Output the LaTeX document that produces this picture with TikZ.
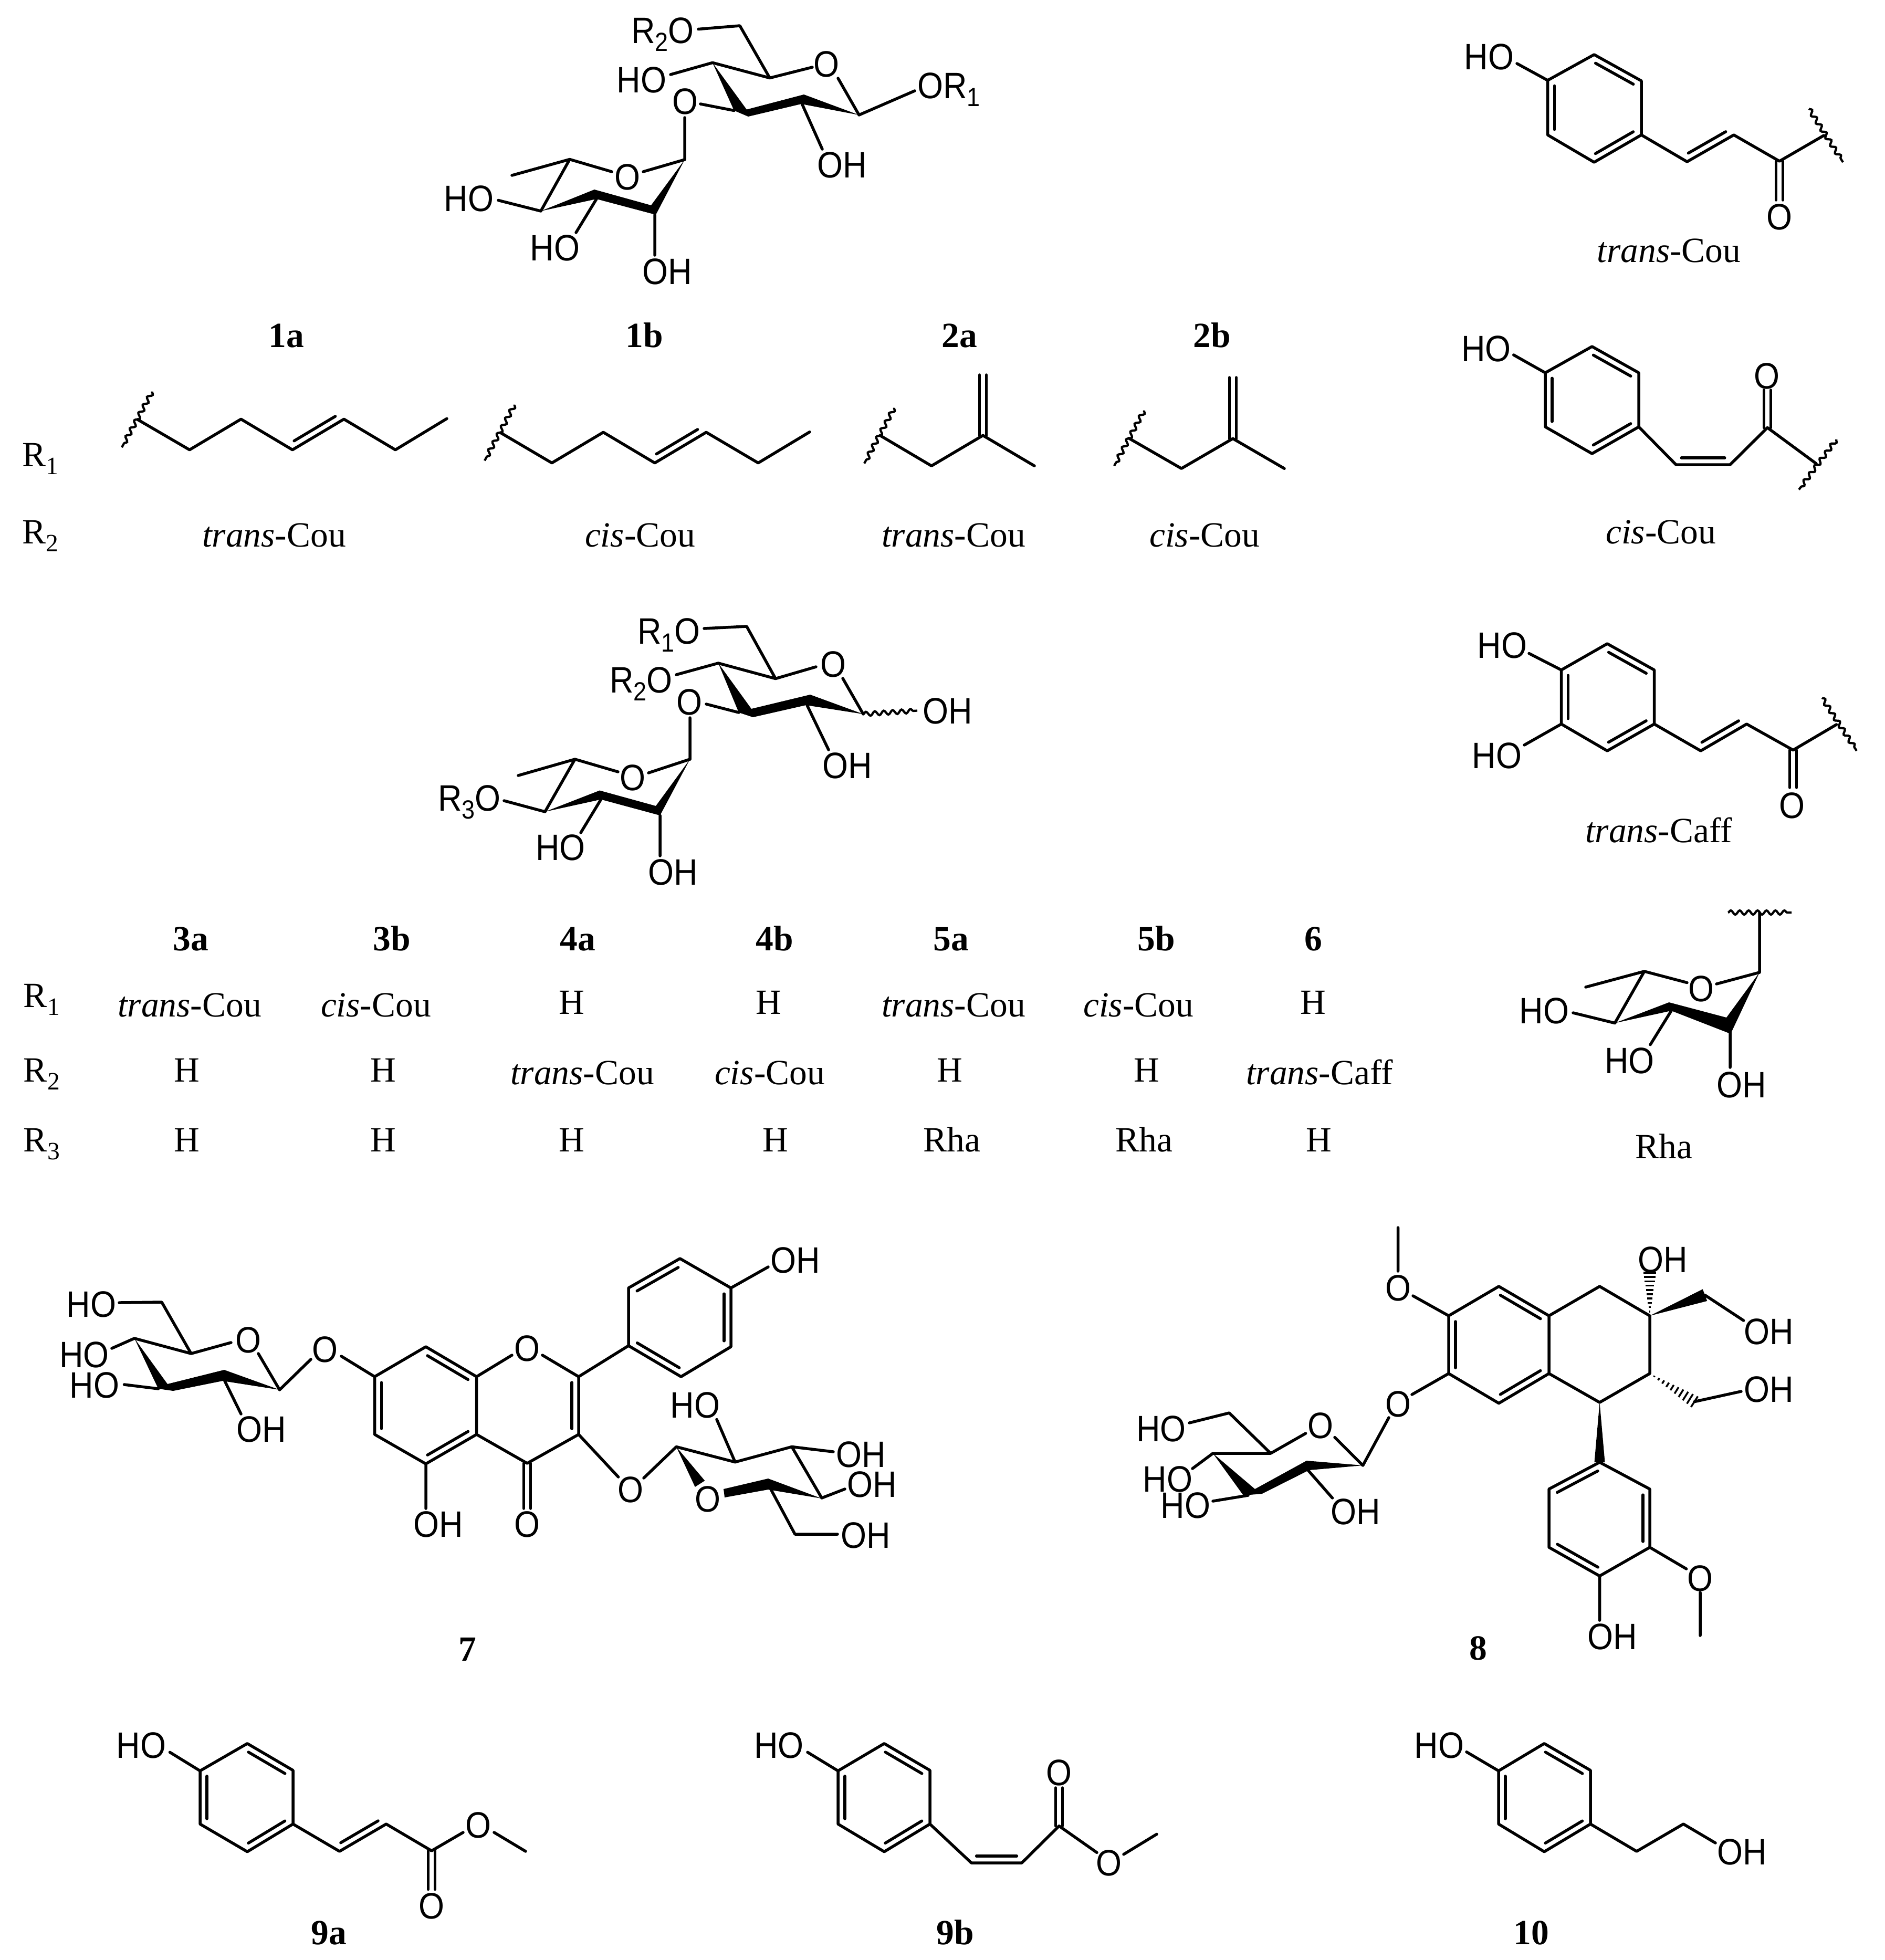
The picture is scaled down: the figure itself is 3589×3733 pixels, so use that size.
\documentclass[tikz,border=0pt]{standalone}
\usepackage{fontspec}
\setmainfont{Liberation Serif}
\newfontfamily\atomfont[FakeStretch=0.9]{Liberation Sans}
\usetikzlibrary{calc,decorations.pathmorphing}
\newcommand\pts[1]{\foreach \n/\x/\y in {#1} {\coordinate (\n) at (\x,\y);}}
\newcommand\subd[1]{\raisebox{-3pt}{\fontsize{10}{10}\selectfont #1}}
\newcommand\subs[1]{\raisebox{-3pt}{\fontsize{9.5}{10}\selectfont #1}}
% inner line of a double bond, on the left of a->b
\newcommand\dbl[2]{\draw[bond] ($(#1)!0.1!(#2)!2.6pt!90:(#2)$) -- ($(#2)!0.1!(#1)!2.6pt!-90:(#1)$);}
% symmetric double bond
\newcommand\dblc[2]{\draw[bond] ($(#1)!1.3pt!90:(#2)$) -- ($(#2)!1.3pt!-90:(#1)$) ($(#1)!1.3pt!-90:(#2)$) -- ($(#2)!1.3pt!90:(#1)$);}
\newcommand\wdg[3]{\fill (#1) -- ($(#2)!#3!90:(#1)$) -- ($(#2)!#3!-90:(#1)$) -- cycle;}
\newcommand\hashb[3]{\foreach \hf in {0.1,0.2,...,1.0}{\pgfmathsetmacro\hw{\hf*#3}\draw[line width=.7pt] ($(#1)!\hf!(#2)!\hw pt!90:(#2)$) -- ($(#1)!\hf!(#2)!\hw pt!-90:(#2)$);}}
\tikzset{
 bond/.style={line width=1.1pt,line cap=round,line join=round},
 wavy/.style={line width=.85pt,decorate,decoration={snake,amplitude=.8pt,segment length=3.4pt}},
 atomlab/.style={inner sep=0pt,font=\atomfont\fontsize{14}{14}\selectfont},
 atomrow/.style={inner sep=0pt,anchor=base west,font=\atomfont\fontsize{14}{14}\selectfont},
 captxt/.style={inner sep=0pt,anchor=base,font=\fontsize{13.5}{14}\selectfont},
 capbold/.style={inner sep=0pt,anchor=base,font=\bfseries\fontsize{13.5}{14}\selectfont},
 rlab/.style={inner sep=0pt,anchor=base west,font=\fontsize{13.5}{14}\selectfont},
}
\begin{document}
\begin{tikzpicture}[x=0.2pt,y=-0.2pt]
\useasboundingbox (0,0) rectangle (3589,3733);
\fill[white] (0,0) rectangle (3589,3733);

%% ---------- top disaccharide
\pts{Ac6/1409/49,Ac5/1466/148.5,Ac1/1636/219,Ac4/1357/119.4,Ac3t/1398/210.5,Ac2/1527.5/198,
AeR/1330/55.5,AeOa/1547/128,AeOb/1596/149,AeRb/1742/173,AeHO/1277/142,AeOc/1334/198,AeOd/1304/224,AeOH/1566/284,
Bc1/1304/304,BeOa/1225/327,BeOb/1165/327,Bc5/1085/303.5,Bme/975/334,Bc4/1030/402,BeHO/949/381.5,Bc3/1136/379,BeH3/1097/443,Bc2/1247/409,BeH2/1247/486}
\draw[bond] (AeR)--(Ac6)--(Ac5)--(AeOa) (Ac5)--(Ac4)--(AeHO) (AeOb)--(Ac1)--(AeRb) (AeOc)--(Ac3t) (AeOd)--(Bc1) (Ac2)--(AeOH);
\fill (1357,119.4)--(1422,208.6)--(1531,180)--(1636,219)--(1526,198)--(1425,222)--(1398,210.5)--cycle;
\draw[bond] (BeOa)--(Bc1) (BeOb)--(Bc5)--(Bme) (Bc5)--(Bc4)--(BeHO) (Bc3)--(BeH3) (Bc2)--(BeH2);
\fill (1030,402)--(1132,361)--(1240,391)--(1304,304)--(1249,409)--(1136,379)--cycle;
\node[atomrow] (Alr) at (1201,82) {R\subd{2}O};
\node[atomlab] (Alo) at (1574,122.5) {O};
\node[atomrow] (Alq) at (1746,187) {OR\subd{1}};
\node[atomlab] (Alh) at (1222,152) {HO};
\node[atomlab] (Alc) at (1305,193) {O};
\node[atomlab] (Alo2) at (1604,314.5) {OH};
\node[atomlab] (Blo) at (1195,337.5) {O};
\node[atomlab] (Blh) at (893,378) {HO};
\node[atomlab] (Bl3) at (1057,472) {HO};
\node[atomlab] (Bl2) at (1271,517) {OH};

%% ---------- row 1a-2b
\node[capbold] (c1a) at (545,661.7) {1a};
\node[capbold] (c1b) at (1227,661.7) {1b};
\node[capbold] (c2a) at (1827,661.7) {2a};
\node[capbold] (c2b) at (2308,661.7) {2b};
\node[rlab] (r1a) at (41,888) {R\subs{1}};
\node[rlab] (r2a) at (41,1035.7) {R\subs{2}};
\node[captxt] (t1a) at (522,1041.7) {\textit{trans}-Cou};
\node[captxt] (t1b) at (1219,1041.7) {\textit{cis}-Cou};
\node[captxt] (t2a) at (1816,1041.7) {\textit{trans}-Cou};
\node[captxt] (t2b) at (2294,1041.7) {\textit{cis}-Cou};
\pts{Ca1/262/799,Ca2/361/856.7,Ca3/459/798.3,Ca4/557/856.7,Ca5/655/798.3,Ca6/753/856.7,Ca7/851/797.3,Caw/290/745.7,Cax/232/852,
Cb1/953/824,Cb2/1051/881.7,Cb3/1149/823.3,Cb4/1247/881.7,Cb5/1345/823.3,Cb6/1444/881.7,Cb7/1542/822.7,Cbw/980/770.7,Cbx/923/877.3,
Cc1/1676/829.3,Cc2/1774/887.3,Cc3/1872/829.3,Cc4/1970/887.3,Cct/1872/714,Ccw/1703/776.7,Ccx/1646/882.7,
Cd1/2150/834.7,Cd2/2250/892.3,Cd3/2348/835.3,Cd4/2446/892.3,Cdt/2348/719,Cdw/2179/781.7,Cdx/2122/887.3}
\draw[bond] (Ca1)--(Ca2)--(Ca3)--(Ca4)--(Ca5)--(Ca6)--(Ca7); \dbl{Ca4}{Ca5}
\draw[wavy] (Caw)--(Cax);
\draw[bond] (Cb1)--(Cb2)--(Cb3)--(Cb4)--(Cb5)--(Cb6)--(Cb7); \dbl{Cb4}{Cb5}
\draw[wavy] (Cbw)--(Cbx);
\draw[bond] (Cc1)--(Cc2)--(Cc3)--(Cc4); \dblc{Cc3}{Cct}
\draw[wavy] (Ccw)--(Ccx);
\draw[bond] (Cd1)--(Cd2)--(Cd3)--(Cd4); \dblc{Cd3}{Cdt}
\draw[wavy] (Cdw)--(Cdx);

%% ---------- second disaccharide
\pts{Dc6/1422/1193,Dc5/1477/1292.5,Dc1/1644/1360,Dc4/1368/1263,Dc3t/1407/1357,Dc2/1537/1343,
DeR/1341/1197,DeOa/1554/1270,DeOb/1605/1292,DeW/1747/1353.5,DeR2/1288/1285,DeOc/1345/1341,DeOd/1314/1367,DeOH/1578/1428,
Ec1/1314/1446,EeOa/1235/1472,EeOb/1177/1470,Ec5/1095/1446,Eme/987/1477,Ec4/1038/1546,EeR/960/1525,Ec3/1144.5/1522.6,EeH3/1106/1586,Ec2/1257/1553,EeH2/1257/1630}
\draw[bond] (DeR)--(Dc6)--(Dc5)--(DeOa) (Dc5)--(Dc4)--(DeR2) (DeOb)--(Dc1) (DeOc)--(Dc3t) (DeOd)--(Ec1) (Dc2)--(DeOH);
\draw[wavy] (Dc1)--(DeW);
\fill (1368,1263)--(1431,1350)--(1543,1323)--(1644,1360)--(1535,1343)--(1434,1366)--(1407,1357)--cycle;
\draw[bond] (EeOa)--(Ec1) (EeOb)--(Ec5)--(Eme) (Ec5)--(Ec4)--(EeR) (Ec3)--(EeH3) (Ec2)--(EeH2);
\fill (1038,1546)--(1142,1505.5)--(1249,1535)--(1314,1446)--(1257,1553)--(1144.5,1522.6)--cycle;
\node[atomrow] (Dlr) at (1213,1226) {R\subd{1}O};
\node[atomrow] (Dlr2) at (1160,1319) {R\subd{2}O};
\node[atomlab] (Dlo) at (1587,1265.6) {O};
\node[atomlab] (Dlw) at (1805,1354) {OH};
\node[atomlab] (Dlc) at (1313,1337) {O};
\node[atomlab] (Dlh) at (1614,1458) {OH};
\node[atomlab] (Elo) at (1205,1481) {O};
\node[atomrow] (Elr) at (833,1544) {R\subd{3}O};
\node[atomlab] (El3) at (1067.5,1614.6) {HO};
\node[atomlab] (El2) at (1282,1661) {OH};

%% ---------- table
\node[capbold] (h3a) at (363,1810) {3a};
\node[capbold] (h3b) at (746,1810) {3b};
\node[capbold] (h4a) at (1100,1810) {4a};
\node[capbold] (h4b) at (1475,1810) {4b};
\node[capbold] (h5a) at (1811,1810) {5a};
\node[capbold] (h5b) at (2202,1810) {5b};
\node[capbold] (h6) at (2501,1810) {6};
\node[rlab] (tr1) at (44,1918.3) {R\subs{1}};
\node[rlab] (tr2) at (44,2060.7) {R\subs{2}};
\node[rlab] (tr3) at (44,2193.3) {R\subs{3}};
\node[captxt] (u11) at (361,1936.7) {\textit{trans}-Cou};
\node[captxt] (u12) at (716,1936.7) {\textit{cis}-Cou};
\node[captxt] (u13) at (1089,1931.7) {H};
\node[captxt] (u14) at (1464,1931.7) {H};
\node[captxt] (u15) at (1816,1936.7) {\textit{trans}-Cou};
\node[captxt] (u16) at (2168,1936.7) {\textit{cis}-Cou};
\node[captxt] (u17) at (2501,1931.7) {H};
\node[captxt] (u21) at (356,2060.7) {H};
\node[captxt] (u22) at (730,2060.7) {H};
\node[captxt] (u23) at (1109,2065.7) {\textit{trans}-Cou};
\node[captxt] (u24) at (1466,2065.7) {\textit{cis}-Cou};
\node[captxt] (u25) at (1809,2060.7) {H};
\node[captxt] (u26) at (2184,2060.7) {H};
\node[captxt] (u27) at (2513,2065.7) {\textit{trans}-Caff};
\node[captxt] (u31) at (356,2193.3) {H};
\node[captxt] (u32) at (730,2193.3) {H};
\node[captxt] (u33) at (1089,2193.3) {H};
\node[captxt] (u34) at (1477,2193.3) {H};
\node[captxt] (u35) at (1813,2193.3) {Rha};
\node[captxt] (u36) at (2179,2193.3) {Rha};
\node[captxt] (u37) at (2512,2193.3) {H};

%% ---------- trans-Cou
\pts{Fe/2889/121,Fp1/2947.5/153,Fp2/3036/104,Fp3/3126/154,Fp4/3126/257,Fp5/3036/309,Fp6/2947.5/257,
Fv1/3213/308,Fv2/3302/257,Fv3/3389/307,Fat/3473.5/258,Fw1/3445/207,Fw2/3510/309,Fco/3389/381}
\draw[bond] (Fe)--(Fp1)--(Fp2)--(Fp3)--(Fp4)--(Fp5)--(Fp6)--(Fp1) (Fp4)--(Fv1)--(Fv2)--(Fv3)--(Fat);
\dbl{Fp3}{Fp2} \dbl{Fp5}{Fp4} \dbl{Fp1}{Fp6} \dbl{Fv1}{Fv2} \dblc{Fv3}{Fco}
\draw[wavy] (Fw1)--(Fw2);
\node[atomlab] (Fh) at (2836,108) {HO};
\node[atomlab] (Fo) at (3389,413) {O};
\node[captxt] (Fc) at (3178.5,499) {\textit{trans}-Cou};

%% ---------- cis-Cou
\pts{Ge/2882.7/676,Gp1/2943/710,Gp2/3032/660,Gp3/3121/710,Gp4/3121/813,Gp5/3032/864,Gp6/2943/813,
Gv1/3192/885,Gv2/3295/885,Gv3/3366/814.5,Gat/3459/883,Gw1/3497.5/837,Gw2/3426/932.5,Gco/3366/743}
\draw[bond] (Ge)--(Gp1)--(Gp2)--(Gp3)--(Gp4)--(Gp5)--(Gp6)--(Gp1) (Gp4)--(Gv1)--(Gv2)--(Gv3)--(Gat);
\dbl{Gp3}{Gp2} \dbl{Gp5}{Gp4} \dbl{Gp1}{Gp6} \dbl{Gv1}{Gv2} \dblc{Gv3}{Gco}
\draw[wavy] (Gw1)--(Gw2);
\node[atomlab] (Gh) at (2830.6,664) {HO};
\node[atomlab] (Go) at (3365,716) {O};
\node[captxt] (Gc) at (3163,1035) {\textit{cis}-Cou};

%% ---------- trans-Caff
\pts{He1/2912/1244.5,He2/2903/1419,Hp1/2973.5/1276,Hp2/3061/1226,Hp3/3150.5/1276,Hp4/3150.5/1379,Hp5/3061/1430,Hp6/2973.5/1379,
Hv1/3239/1430,Hv2/3326.5/1379,Hv3/3415/1428.6,Hat/3497.5/1380,Hw1/3470/1329,Hw2/3536/1430,Hco/3415/1500}
\draw[bond] (He1)--(Hp1)--(Hp2)--(Hp3)--(Hp4)--(Hp5)--(Hp6)--(Hp1) (He2)--(Hp6) (Hp4)--(Hv1)--(Hv2)--(Hv3)--(Hat);
\dbl{Hp3}{Hp2} \dbl{Hp5}{Hp4} \dbl{Hp1}{Hp6} \dbl{Hv1}{Hv2} \dblc{Hv3}{Hco}
\draw[wavy] (Hw1)--(Hw2);
\node[atomlab] (Hh1) at (2861,1229) {HO};
\node[atomlab] (Hh2) at (2851,1439) {HO};
\node[atomlab] (Ho) at (3413,1534) {O};
\node[captxt] (Hc) at (3159,1604.6) {\textit{trans}-Caff};

%% ---------- Rha
\pts{Iw1/3291/1738,Iw2/3412/1738,Iwm/3351/1738,Ic1/3351/1852,IeOa/3269/1874,IeOb/3213/1871.5,Ic5/3131.6/1850,Ime/3020/1880,Ic4/3075.5/1948.5,IeH/2996/1929,Ic3/3183/1925,IeH3/3143/1989.6,Ic2/3295/1958,IeH2/3295/2033}
\draw[wavy] (Iw1)--(Iw2);
\draw[bond] (Iwm)--(Ic1)--(IeOa) (IeOb)--(Ic5)--(Ime) (Ic5)--(Ic4)--(IeH) (Ic3)--(IeH3) (Ic2)--(IeH2);
\fill (3075.5,1948.5)--(3178.6,1909)--(3288,1938)--(3351,1852)--(3296,1969)--(3183,1925)--cycle;
\node[atomlab] (Io) at (3240,1883) {O};
\node[atomlab] (Ih) at (2941,1925) {HO};
\node[atomlab] (Ih3) at (3103.6,2020) {HO};
\node[atomlab] (Ih2) at (3317,2066) {OH};
\node[captxt] (Ic) at (3169,2206) {Rha};

%% ---------- compound 7
\pts{Ja1/713.5/2622,Ja2/811/2565,Ja3/907.6/2622,Ja4/907.6/2732,Ja5/811/2788,Ja6/713.5/2732,
JeOa/975/2581,JeOb/1033/2581,Jc2/1102/2622,Jc3/1102/2732,Jc4/1004/2787,Jco/1004/2873,JeOH/811/2873,
Jb1/1197/2563,Jb2/1197/2453,Jb3/1295/2397,Jb4/1392/2453,Jb5/1392/2565,Jb6/1297/2622,JbH/1463/2413,
JeOc/650/2583,JeOd/592/2589,Kc1/532.5/2647,KeOa/492/2578,KeOb/440/2557,Kc5/364/2578,Kc6/308/2480,KeH6/227/2481,Kc4/256/2549,KeH4/213/2568,KeH3/236.5/2637,Kc3/301.5/2645,Kc2/427/2628,KeH2/459/2693,
JeOe/1177.6/2813,JeOf/1226/2815,Lc1/1288/2755.5,Lc2/1400/2784.6,Lc3/1508/2755.5,Lc4/1565/2853,LeH2/1365/2703.5,LeH3/1587/2765,LeH4/1609/2836,Lc5/1463/2827,Lc6/1514/2922,LeH6/1595/2922,Lwb/1333/2826}
\draw[bond] (Ja1)--(Ja2)--(Ja3)--(Ja4)--(Ja5)--(Ja6)--(Ja1) (Ja3)--(JeOa) (JeOb)--(Jc2)--(Jc3)--(Jc4)--(Ja4) (Ja5)--(JeOH) (Jc2)--(Jb1)--(Jb2)--(Jb3)--(Jb4)--(Jb5)--(Jb6)--(Jb1) (Jb4)--(JbH);
\dbl{Ja3}{Ja2} \dbl{Ja5}{Ja4} \dbl{Ja1}{Ja6} \dbl{Jc3}{Jc2} \dbl{Jb3}{Jb2} \dbl{Jb5}{Jb4} \dbl{Jb1}{Jb6} \dblc{Jc4}{Jco}
\draw[bond] (Ja1)--(JeOc) (JeOd)--(Kc1)--(KeOa) (KeOb)--(Kc5)--(Kc6)--(KeH6) (Kc5)--(Kc4)--(KeH4) (KeH3)--(Kc3) (Kc2)--(KeH2);
\fill (256,2549)--(319,2636)--(427,2609)--(532.5,2647)--(424,2630)--(330,2649)--(301.5,2645)--cycle;
\draw[bond] (Jc3)--(JeOe) (JeOf)--(Lc1)--(Lc2)--(Lc3)--(Lc4)--(LeH4) (Lc2)--(LeH2) (Lc3)--(LeH3) (Lc5)--(Lc6)--(LeH6);
\wdg{Lc1}{Lwb}{2.2pt}
\fill (1378,2836)--(1463,2816)--(1565,2854)--(1463,2837)--(1380,2852)--cycle;
\node[atomlab] (Jo) at (1004,2568) {O};
\node[atomlab] (Jo2) at (1004,2903) {O};
\node[atomlab] (Jh5) at (835,2903) {OH};
\node[atomlab] (Jh4) at (1515,2400) {OH};
\node[atomlab] (Jo7) at (619,2570) {O};
\node[atomlab] (Ko) at (473,2552) {O};
\node[atomlab] (Kh6) at (174,2484) {HO};
\node[atomlab] (Kh4) at (160.6,2580) {HO};
\node[atomlab] (Kh3) at (180,2638) {HO};
\node[atomlab] (Kh2) at (498,2722.5) {OH};
\node[atomlab] (Jo3) at (1201,2837) {O};
\node[atomlab] (Lo) at (1348,2855) {O};
\node[atomlab] (Lh2) at (1324,2676.6) {HO};
\node[atomlab] (Lh3) at (1639.5,2770) {OH};
\node[atomlab] (Lh4) at (1661,2827) {OH};
\node[atomlab] (Lh6) at (1649,2924) {OH};
\node[capbold] (c7) at (890,3163) {7};

%% ---------- compound 8
\pts{Mr1/2759/2506,Mr2/2854.5/2450,Mr3/2950/2506,Mr4/2950/2616,Mr5/2854.5/2672.6,Mr6/2759/2616,
Ms1/3046.5/2450,Ms2/3142/2506,Ms3/3142/2616,Ms4/3046.5/2671,
MeOa/2691/2468,MeOb/2662.5/2421,Mme/2662.5/2338,MeOc/2689/2656,MeOd/2645/2700,
Nc1/2595.6/2791,NeOa/2542/2737.5,NeOb/2486.6/2730,Nc5/2420/2768,Nc6/2341/2691,NeH6/2265/2710,Nc4/2310/2768,NeH4/2271/2797,NeH3/2310/2859,Nc3/2377/2848,Nc2/2491/2800,NeH2/2537.5/2853,
MhT/3142/2424,Mw1/3247/2466.6,Mw2/3320.6/2515,Mh2/3227/2669.6,Mh3/3316/2650,Mt1/3046.5/2785,Mt2/3142/2836,Mt3/3142/2947,Mt4/3046.5/3001.6,Mt5/2950/2947,Mt6/2950/2836,
MeOe/3211.6/2988,MeOf/3238/3033,Mmf/3238/3115,MeOH/3046.5/3086}
\draw[bond] (Mr1)--(Mr2)--(Mr3)--(Mr4)--(Mr5)--(Mr6)--(Mr1) (Mr3)--(Ms1)--(Ms2)--(Ms3)--(Ms4)--(Mr4) (Mr1)--(MeOa) (MeOb)--(Mme) (Mr6)--(MeOc) (MeOd)--(Nc1)--(NeOa) (NeOb)--(Nc5)--(Nc6)--(NeH6) (Nc5)--(Nc4)--(NeH4) (NeH3)--(Nc3) (Nc2)--(NeH2);
\dbl{Mr3}{Mr2} \dbl{Mr5}{Mr4} \dbl{Mr1}{Mr6}
\fill (2310,2768)--(2390,2836)--(2488.4,2782)--(2595.6,2791)--(2493,2800)--(2403.6,2845)--(2368,2848)--cycle;
\hashb{Ms2}{MhT}{2.4}
\wdg{Ms2}{Mw1}{2.4pt}
\draw[bond] (Mw1)--(Mw2) (Mh2)--(Mh3);
\hashb{Ms3}{Mh2}{2.4}
\wdg{Ms4}{Mt1}{2pt}
\draw[bond] (Mt1)--(Mt2)--(Mt3)--(Mt4)--(Mt5)--(Mt6)--(Mt1) (Mt3)--(MeOe) (MeOf)--(Mmf) (Mt4)--(MeOH);
\dbl{Mt1}{Mt6} \dbl{Mt3}{Mt2} \dbl{Mt5}{Mt4}
\node[atomlab] (Mo1) at (2662.5,2453) {O};
\node[atomlab] (Mo2) at (2662.5,2674) {O};
\node[atomlab] (No) at (2515,2715) {O};
\node[atomlab] (Nh6) at (2211.6,2721.7) {HO};
\node[atomlab] (Nh4) at (2224,2817.4) {HO};
\node[atomlab] (Nh3) at (2258,2867) {HO};
\node[atomlab] (Nh2) at (2582,2879) {OH};
\node[atomlab] (Mh1) at (3167,2399) {OH};
\node[atomlab] (Mh4) at (3369,2536) {OH};
\node[atomlab] (Mh5) at (3369,2646.6) {OH};
\node[atomlab] (Mo3) at (3238.4,3006) {O};
\node[atomlab] (Mh6) at (3070.6,3117) {OH};
\node[capbold] (c8) at (2815,3161.6) {8};

%% ---------- 9a
\pts{Pe/323.5/3337.3,Pp1/381/3372.7,Pp2/471/3320.7,Pp3/558/3371.7,Pp4/558/3474,Pp5/471/3526.7,Pp6/381/3474,
Pv1/646.6/3526,Pv2/735.5/3474,Pv3/822/3525,Pco/822/3598.3,PeO/882/3490,PeP/941/3490,Pme/1001/3526}
\draw[bond] (Pe)--(Pp1)--(Pp2)--(Pp3)--(Pp4)--(Pp5)--(Pp6)--(Pp1) (Pp4)--(Pv1)--(Pv2)--(Pv3)--(PeO) (PeP)--(Pme);
\dbl{Pp3}{Pp2} \dbl{Pp5}{Pp4} \dbl{Pp1}{Pp6} \dbl{Pv1}{Pv2} \dblc{Pv3}{Pco}
\node[atomlab] (Ph) at (269,3324.7) {HO};
\node[atomlab] (Po) at (822,3630) {O};
\node[atomlab] (Po2) at (911,3476.7) {O};
\node[capbold] (c9a) at (626,3703.3) {9a};

%% ---------- 9b
\pts{Qe/1538/3337.3,Qp1/1596/3372.7,Qp2/1684/3320.7,Qp3/1771/3371.7,Qp4/1771/3474,Qp5/1684/3526.7,Qp6/1596/3474,
Qv1/1850/3548,Qv2/1946/3548,Qv3/2017/3477.7,Qco/2017/3405,QeO/2089/3528.3,QeP/2140/3531.7,Qme/2203/3493.3}
\draw[bond] (Qe)--(Qp1)--(Qp2)--(Qp3)--(Qp4)--(Qp5)--(Qp6)--(Qp1) (Qp4)--(Qv1)--(Qv2)--(Qv3)--(QeO) (QeP)--(Qme);
\dbl{Qp3}{Qp2} \dbl{Qp5}{Qp4} \dbl{Qp1}{Qp6} \dbl{Qv1}{Qv2} \dblc{Qv3}{Qco}
\node[atomlab] (Qh) at (1483.6,3324.7) {HO};
\node[atomlab] (Qo) at (2017,3376) {O};
\node[atomlab] (Qo2) at (2112,3548.3) {O};
\node[capbold] (c9b) at (1819,3703.3) {9b};

%% ---------- 10
\pts{Se/2793/3336.7,Sp1/2854/3372.7,Sp2/2941/3320.7,Sp3/3029/3371.7,Sp4/3029/3474,Sp5/2941/3526.7,Sp6/2854/3474,Sv1/3117/3526,Sv2/3206/3474,SeH/3267/3510}
\draw[bond] (Se)--(Sp1)--(Sp2)--(Sp3)--(Sp4)--(Sp5)--(Sp6)--(Sp1) (Sp4)--(Sv1)--(Sv2)--(SeH);
\dbl{Sp3}{Sp2} \dbl{Sp5}{Sp4} \dbl{Sp1}{Sp6}
\node[atomlab] (Sh) at (2741,3324.7) {HO};
\node[atomlab] (Sh2) at (3318,3527.7) {OH};
\node[capbold] (c10) at (2916,3703.3) {10};
\end{tikzpicture}
\end{document}
